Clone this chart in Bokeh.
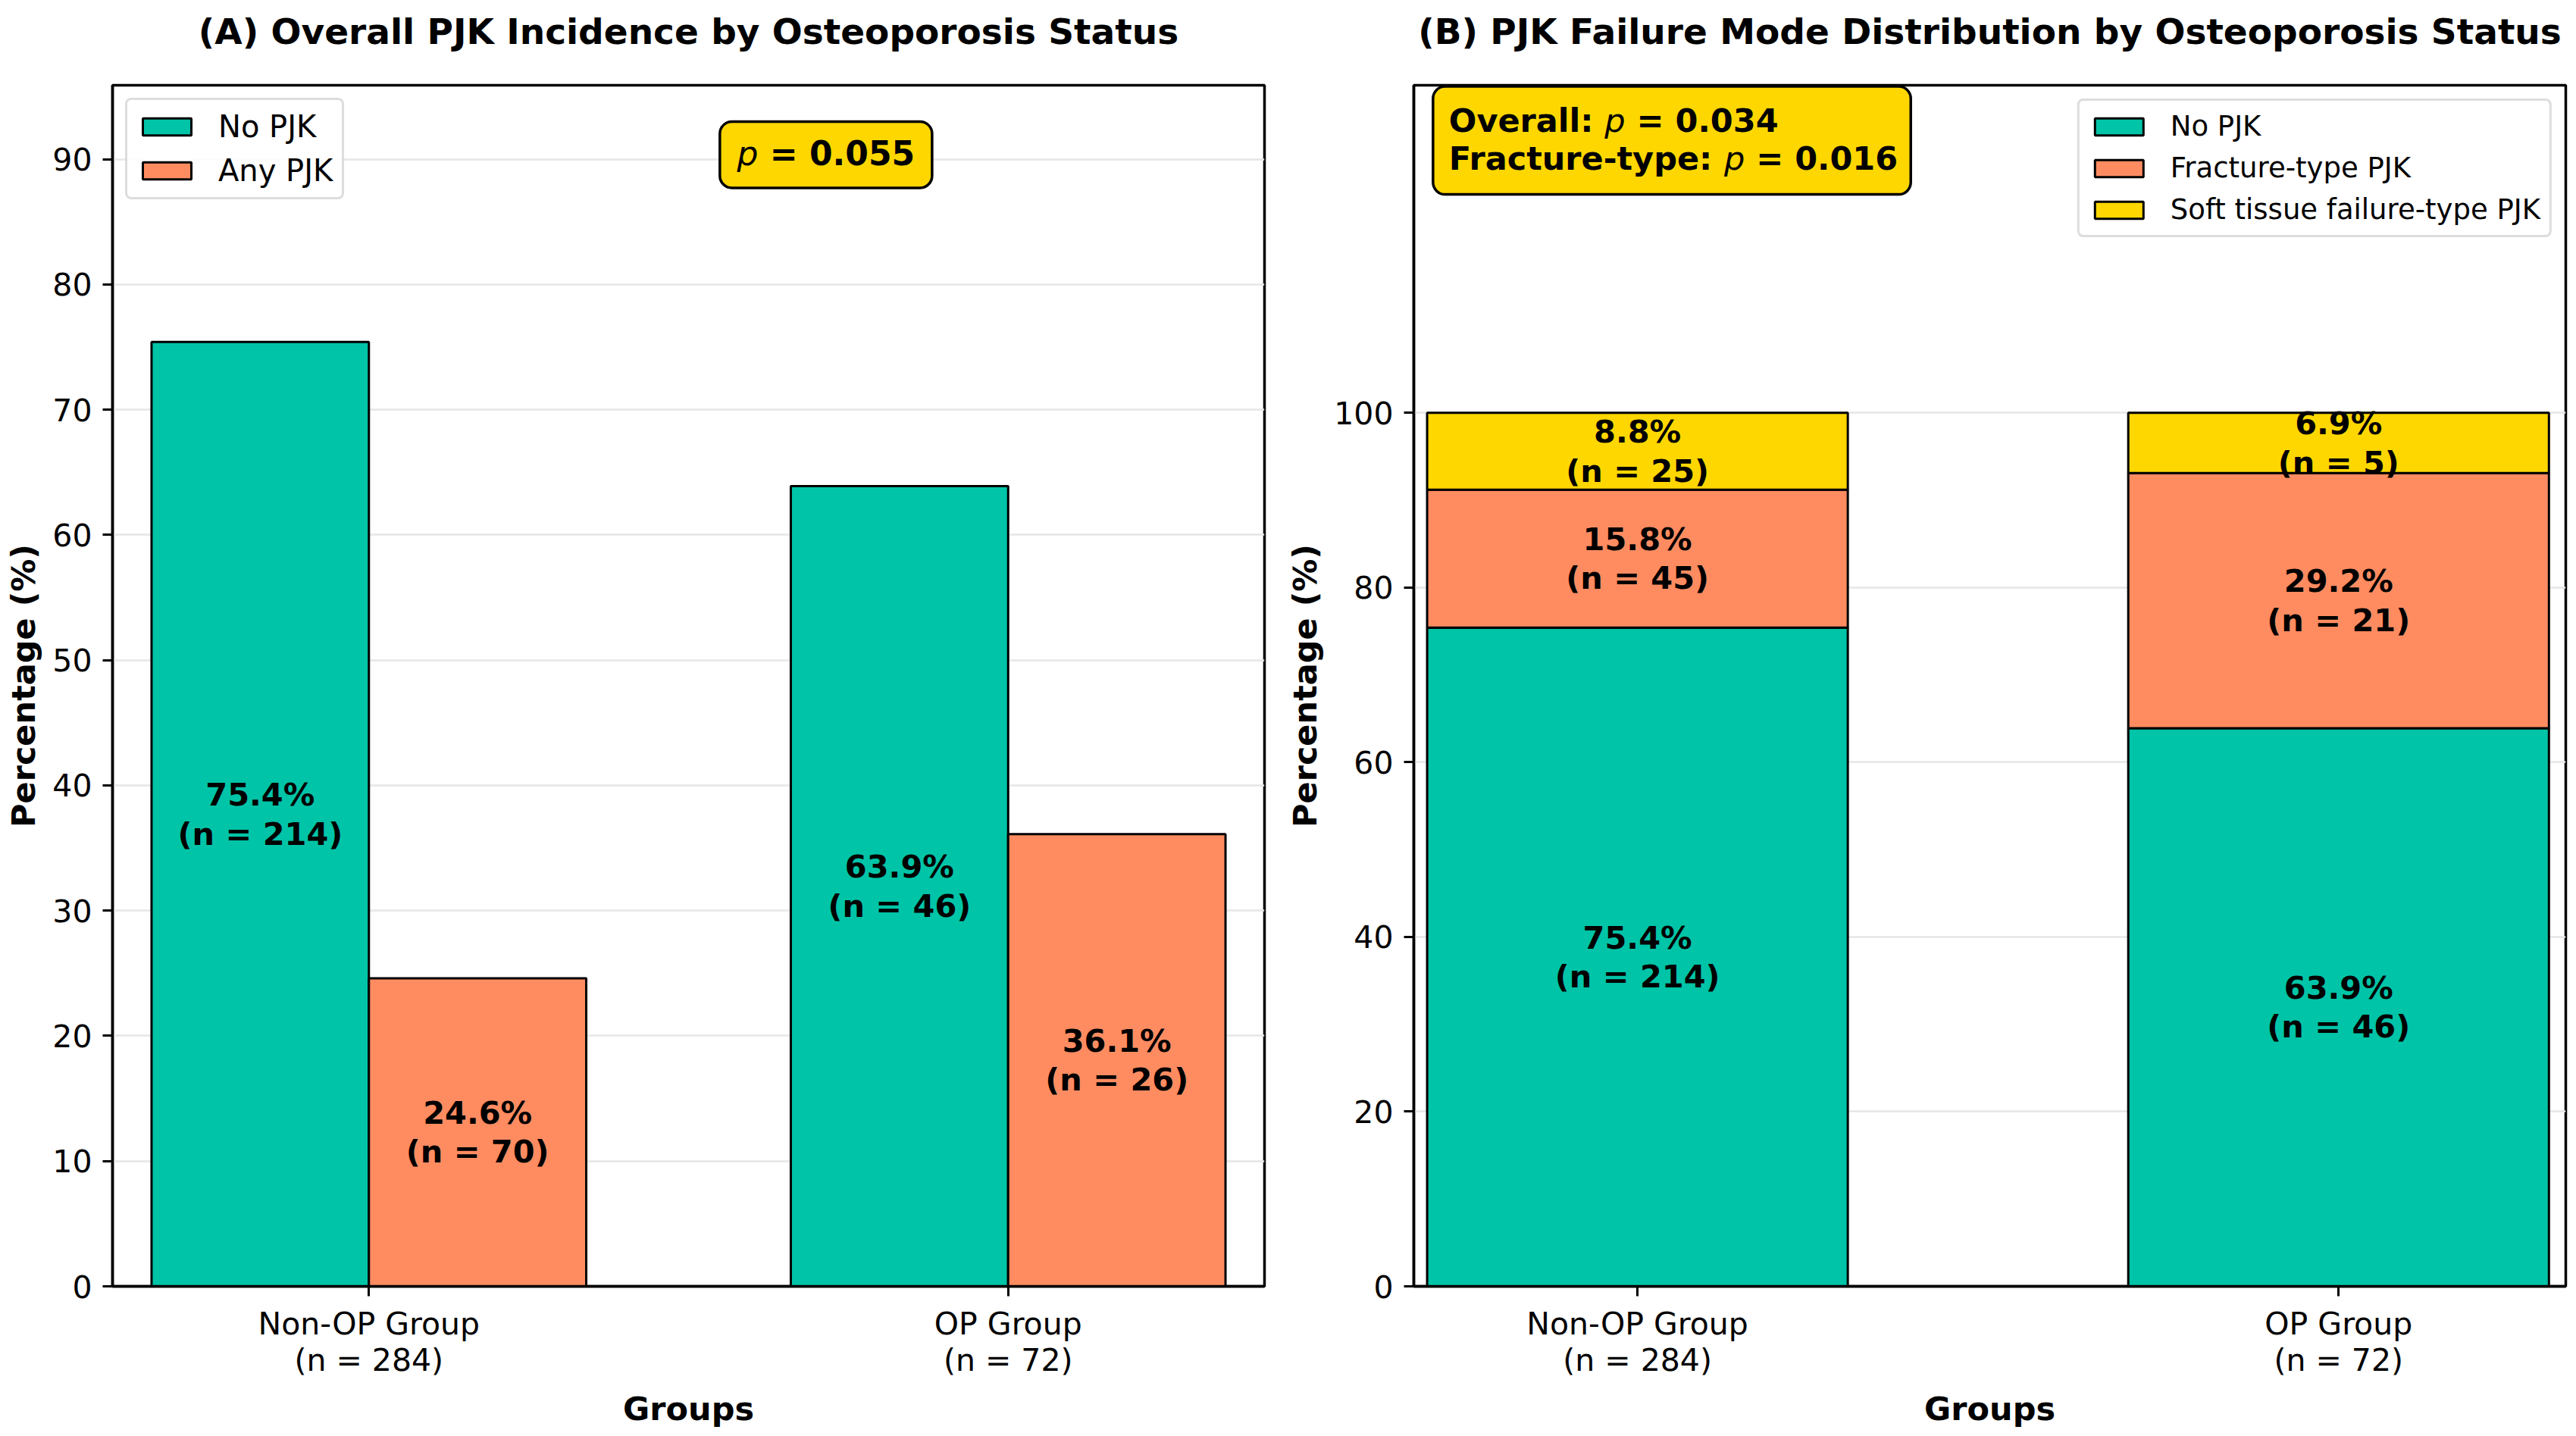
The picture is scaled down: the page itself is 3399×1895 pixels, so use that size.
import numpy as np
from bokeh.plotting import figure
from bokeh.layouts import row
from bokeh.models import (Range1d, FixedTicker, Legend, LegendItem, BoxAnnotation,
                          Label, ColumnDataSource)
from bokeh.embed import file_html
from bokeh.resources import INLINE
from bokeh.core.properties import value

# ---------------- data ----------------
groups = ["Non-OP Group", "OP Group"]
group_n = [284, 72]

# Panel A: overall PJK incidence
no_pjk_pct = [75.4, 63.9]
no_pjk_n = [214, 46]
any_pjk_pct = [24.6, 36.1]
any_pjk_n = [70, 26]
p_value_a = "0.055"

# Panel B: failure mode distribution
fracture_pct = [15.8, 29.2]
fracture_n = [45, 21]
soft_pct = [8.8, 6.9]
soft_n = [25, 5]
p_overall_b = "0.034"
p_fracture_b = "0.016"

series_a = ["No PJK", "Any PJK"]
series_b = ["No PJK", "Fracture-type PJK", "Soft tissue failure-type PJK"]
title_a = "(A) Overall PJK Incidence by Osteoporosis Status"
title_b = "(B) PJK Failure Mode Distribution by Osteoporosis Status"

# ---------------- style ----------------
TEAL = "#00C4A7"
CORAL = "#FF8C61"
GOLD = "#FFD700"
FONT = "DejaVu Sans"

# DejaVu Sans Bold / Oblique advance widths (units per em 2048) for rich-text layout
BOLD_W = {" ": 713, "-": 852, ".": 780, ":": 819, "=": 1716, "F": 1296, "O": 1741,
          "a": 1382, "c": 1219, "e": 1389, "l": 700, "p": 1466, "r": 1010, "t": 979,
          "u": 1458, "v": 1331, "y": 1331}
for d in "0123456789":
    BOLD_W[d] = 1425
OBL_W = {"p": 1300}


def text_width(s, style, size):
    table = OBL_W if style == "italic" else BOLD_W
    return sum(table.get(ch, 1300) for ch in s) / 2048.0 * size


def tick_labels():
    return {i: f"{g}\n(n = {n})" for i, (g, n) in enumerate(zip(groups, group_n))}


def make_fig(title, x_rng, y_rng, yticks, mbl, mbr):
    p = figure(frame_width=1520, frame_height=1585,
               x_range=Range1d(*x_rng), y_range=Range1d(*y_rng),
               output_backend="svg", toolbar_location=None,
               min_border_left=mbl, min_border_right=mbr,
               min_border_top=112, min_border_bottom=175)
    p.background_fill_color = "white"
    p.border_fill_color = "white"
    p.outline_line_color = "black"
    p.outline_line_width = 3.5
    p.outline_line_alpha = 1.0

    # title: a spacer second line lifts the text further above the frame
    p.title.text = title + "\n "
    p.title.text_font = FONT
    p.title.text_font_size = "47px"
    p.title.text_font_style = "bold"
    p.title.text_color = "black"
    p.title.text_line_height = 0.77
    p.title.align = "center"
    p.title.vertical_align = "top"
    p.title.standoff = 0

    p.xaxis.ticker = FixedTicker(ticks=[0, 1])
    p.xaxis.major_label_overrides = tick_labels()
    p.yaxis.ticker = FixedTicker(ticks=yticks)
    for ax in (p.xaxis[0], p.yaxis[0]):
        ax.axis_line_color = "black"
        ax.axis_line_width = 3.5
        ax.major_tick_line_color = "black"
        ax.major_tick_line_width = 3
        ax.major_tick_out = 13
        ax.major_tick_in = 0
        ax.minor_tick_line_color = None
        ax.major_label_text_font = FONT
        ax.major_label_text_font_size = "41px"
        ax.major_label_text_color = "black"
        ax.major_label_text_line_height = 1.0
        ax.axis_label_text_font = FONT
        ax.axis_label_text_font_size = "43px"
        ax.axis_label_text_font_style = "bold"
        ax.axis_label_text_color = "black"
    p.xaxis.major_label_standoff = 12
    p.yaxis.major_label_standoff = 14
    p.xaxis.axis_label = "Groups"
    p.yaxis.axis_label = "Percentage (%)"
    p.xaxis.axis_label_standoff = 12
    p.yaxis.axis_label_standoff = 10

    p.xgrid.grid_line_color = None
    p.ygrid.grid_line_color = "#E6E6E6"
    p.ygrid.grid_line_width = 2.5
    return p


def style_legend(leg, size):
    leg.label_text_font = FONT
    leg.label_text_font_size = size
    leg.label_text_color = "black"
    leg.glyph_width = 80
    leg.glyph_height = 28
    leg.label_standoff = 28
    leg.padding = 12
    leg.spacing = 12
    leg.border_line_color = "#BBBBBB"
    leg.border_line_width = 3
    leg.background_fill_color = "white"
    leg.background_fill_alpha = 0.85
    if "border_radius" in Legend.properties():
        leg.border_radius = 8


def rich_label(p, x, y, pieces, size, x_offset=0, y_offset=0):
    # pieces: (text, style, leading_space) -- a leading space is laid out as offset
    off = x_offset
    for txt, style, lead in pieces:
        if lead:
            off += text_width(" ", style, size)
        lab = Label(x=x, y=y, x_offset=off, y_offset=y_offset, text=txt,
                    text_font=FONT, text_font_size=f"{size}px",
                    text_font_style="italic" if style == "italic" else "bold",
                    text_color="black", text_align="left", text_baseline="alphabetic")
        p.add_layout(lab)
        off += text_width(txt, style, size)
        if txt.endswith(":"):
            off += text_width(" ", style, size)


def seg_label(pct, n):
    return [f"{a:.1f}%\n(n = {b})" for a, b in zip(pct, n)]


x = np.arange(len(groups), dtype=float)

# ---------------- Panel A ----------------
pa = make_fig(title_a, (-0.401, 1.401), (0, 95.9), list(range(0, 91, 10)), 148, 22)
w_a = 0.34
src_a = ColumnDataSource(dict(
    x_no=x - w_a / 2, x_any=x + w_a / 2,
    no=no_pjk_pct, any=any_pjk_pct,
    y_no=np.array(no_pjk_pct) / 2, y_any=np.array(any_pjk_pct) / 2,
    t_no=seg_label(no_pjk_pct, no_pjk_n), t_any=seg_label(any_pjk_pct, any_pjk_n)))
ra1 = pa.vbar(x="x_no", top="no", bottom=0, width=w_a, source=src_a,
              fill_color=TEAL, line_color="black", line_width=3)
ra2 = pa.vbar(x="x_any", top="any", bottom=0, width=w_a, source=src_a,
              fill_color=CORAL, line_color="black", line_width=3)
for xc, yc, tc in (("x_no", "y_no", "t_no"), ("x_any", "y_any", "t_any")):
    pa.text(x=xc, y=yc, text=tc, source=src_a, text_font=value(FONT),
            text_font_style="bold", text_font_size="41.5px", text_align="center",
            text_baseline="middle", text_line_height=1.05, text_color="black")

leg_a = Legend(items=[LegendItem(label=series_a[0], renderers=[ra1]),
                      LegendItem(label=series_a[1], renderers=[ra2])],
               location="top_left", margin=17)
style_legend(leg_a, "40px")
pa.add_layout(leg_a)

# p-value box (A)
pa.add_layout(BoxAnnotation(left=0.549, right=0.881, top=93.0, bottom=87.7,
                            fill_color=GOLD, fill_alpha=1.0, line_color="black",
                            line_alpha=1.0, line_width=3.5, border_radius=16))
size_a = 44
wa = text_width("p", "italic", size_a) + text_width(f" = {p_value_a}", "bold", size_a)
rich_label(pa, 0.715, 89.7, [("p", "italic", False), (f"= {p_value_a}", "bold", True)],
           size_a, x_offset=-wa / 2, y_offset=12)

# ---------------- Panel B ----------------
pb = make_fig(title_b, (-0.319, 1.324), (0, 137.5), list(range(0, 101, 20)), 175, 6)
w_b = 0.6
no_arr = np.array(no_pjk_pct)
fr_top = no_arr + np.array(fracture_pct)
soft_top = fr_top + np.array(soft_pct)
src_b = ColumnDataSource(dict(
    x=x, no=no_arr, fr_top=fr_top, soft_top=soft_top,
    y_no=no_arr / 2, y_fr=no_arr + np.array(fracture_pct) / 2,
    y_soft=fr_top + np.array(soft_pct) / 2,
    t_no=seg_label(no_pjk_pct, no_pjk_n), t_fr=seg_label(fracture_pct, fracture_n),
    t_soft=seg_label(soft_pct, soft_n)))
rb1 = pb.vbar(x="x", bottom=0, top="no", width=w_b, source=src_b,
              fill_color=TEAL, line_color="black", line_width=3)
rb2 = pb.vbar(x="x", bottom="no", top="fr_top", width=w_b, source=src_b,
              fill_color=CORAL, line_color="black", line_width=3)
rb3 = pb.vbar(x="x", bottom="fr_top", top="soft_top", width=w_b, source=src_b,
              fill_color=GOLD, line_color="black", line_width=3)
for yc, tc in (("y_no", "t_no"), ("y_fr", "t_fr"), ("y_soft", "t_soft")):
    pb.text(x="x", y=yc, text=tc, source=src_b, text_font=value(FONT),
            text_font_style="bold", text_font_size="41.5px", text_align="center",
            text_baseline="middle", text_line_height=1.05, text_color="black")

leg_b = Legend(items=[LegendItem(label=series_b[0], renderers=[rb1]),
                      LegendItem(label=series_b[1], renderers=[rb2]),
                      LegendItem(label=series_b[2], renderers=[rb3])],
               location="top_right", margin=18)
style_legend(leg_b, "37px")
pb.add_layout(leg_b)

pb.add_layout(BoxAnnotation(left=-0.2916, right=0.3898, top=137.37, bottom=125.0,
                            fill_color=GOLD, fill_alpha=1.0, line_color="black",
                            line_alpha=1.0, line_width=3.5, border_radius=16))
size_b = 43
rich_label(pb, -0.2689, 132.44,
           [("Overall:", "bold", False), ("p", "italic", False),
            (f"= {p_overall_b}", "bold", True)], size_b, y_offset=12)
rich_label(pb, -0.2689, 128.11,
           [("Fracture-type:", "bold", False), ("p", "italic", False),
            (f"= {p_fracture_b}", "bold", True)], size_b, y_offset=12)

layout = row(pa, pb)
open("out.html", "w").write(file_html(layout, INLINE))
